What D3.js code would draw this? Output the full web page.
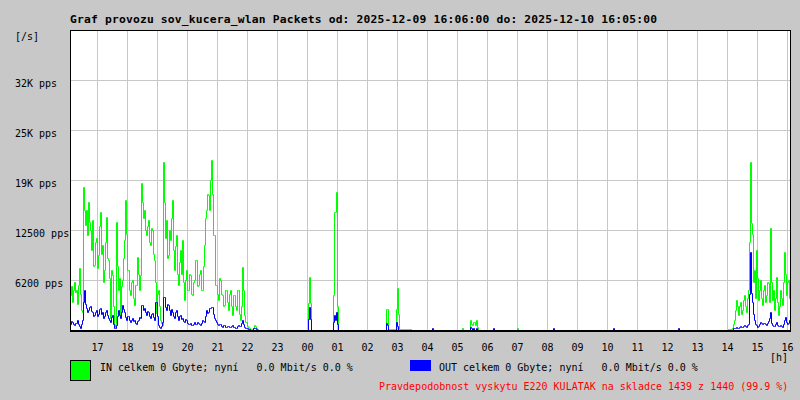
<!DOCTYPE html>
<html><head><meta charset="utf-8">
<script src="https://cdn.jsdelivr.net/npm/d3@7"></script>
<style>
html,body{margin:0;padding:0;background:#c8c8c8;}
svg{display:block;}
text{font-family:"DejaVu Sans Mono",monospace;white-space:pre;}
</style></head><body>
<svg id="c" width="800" height="400"></svg>
<script>
const titleText = "Graf provozu sov_kucera_wlan Packets od: 2025-12-09 16:06:00 do: 2025-12-10 16:05:00";
const startTime = "2025-12-09T16:06:00Z";
const endTime = "2025-12-10T16:06:00Z";
const stepMinutes = 2;
const yMaxK = 37.5; // thousand packets per second
const yTickValues = [6.25, 12.5, 18.75, 25, 31.25];
const yTickLabels = ["6200 pps", "12500 pps", "19K pps", "25K pps", "32K pps"];
const yUnitLabel = "[/s]";
const xUnitLabel = "[h]";
const legendIn = "IN celkem 0 Gbyte; nyní   0.0 Mbit/s 0.0 %";
const legendOut = "OUT celkem 0 Gbyte; nyní   0.0 Mbit/s 0.0 %";
const footerText = "Pravdepodobnost vyskytu E220 KULATAK na skladce 1439 z 1440 (99.9 %)";

// IN packets, thousand pps, one sample every 2 minutes from 16:06 (two lines per hour)
const inValues = [
4.4,5.5,3.5,5.0,6.0,4.8,5.0,3.3,5.6,7.8,4.5,2.5,2.3,17.9,15.0,
13.1,15.0,11.9,16.0,13.5,12.5,10.0,13.8,8.0,8.1,11.0,11.5,7.8,9.4,13.0,
14.8,9.5,10.6,6.0,7.5,11.0,14.1,9.0,8.8,6.5,1.5,7.5,6.9,3.0,0.4,
0.8,13.5,8.0,5.0,6.5,1.9,5.5,6.3,9.0,11.3,16.3,12.0,7.5,7.5,5.0,
4.4,6.0,6.3,4.0,3.1,5.6,5.6,9.1,7.0,5.0,6.9,18.4,16.0,14.0,15.0,
12.5,11.9,13.0,13.8,11.0,10.6,12.8,12.5,9.5,8.8,6.0,2.1,4.5,5.0,3.0,
1.3,0.9,0.6,21.0,16.0,11.5,13.8,9.0,9.4,12.5,11.3,14.0,16.3,10.0,7.5,
10.5,11.9,7.0,5.6,8.5,10.0,7.0,11.3,6.0,3.8,6.3,7.5,5.0,5.0,7.0,
6.9,4.5,4.4,6.0,6.3,8.8,8.8,5.5,5.6,7.0,7.5,5.0,5.0,8.0,10.6,
14.0,15.0,17.0,16.9,15.0,18.8,21.3,17.0,11.9,11.9,5.6,5.6,4.5,3.8,6.5,
6.3,4.5,4.4,3.0,3.1,5.0,5.0,3.5,2.5,4.5,5.0,3.0,1.9,4.4,4.4,
3.0,2.5,5.0,5.0,2.0,1.3,3.0,7.9,5.0,1.9,1.0,1.0,0.5,0.4,0.2,
0.1,0.1,0,0.3,0.6,0.5,0.3,0.1,0,0,0,0,0,0,0,
0,0,0,0,0,0,0,0,0,0,0,0,0,0,0,
0,0,0,0,0,0,0,0,0,0,0,0,0,0,0,
0,0,0,0,0,0,0,0,0,0,0,0,0,3.4,6.6,
3.4,0,0,0,0,0,0,0,0,0,0,0,0,0,0,
0,0,0,0,0,0,0,0,4.4,14.8,14.8,17.3,3.0,0,0,
0,0,0,0,0,0,0,0,0,0,0,0,0,0,0,
0,0,0,0,0,0,0,0,0,0,0,0,0,0,0,
0,0,0,0,0,0,0,0,0,0,0,0,0,0,0,
0,2.6,2.6,0.1,0.1,0.1,0.1,0.1,0.1,0.1,0.1,2.6,5.3,2.0,0.1,
0.1,0.1,0.1,0.1,0.1,0.1,0.1,0.1,0.1,0.1,0.1,0,0,0,0,
0,0,0,0,0,0,0,0,0,0,0,0,0,0,0,
0,0,0,0,0,0,0,0,0,0,0,0,0,0,0,
0,0,0,0,0,0,0,0,0,0,0,0,0,0,0,
0,0,0.3,0,0,0,0,0,0,0,1.3,0.8,0.6,1.0,1.0,
0.6,1.3,0.4,0,0,0,0,0,0,0,0,0,0,0,0,
0,0,0,0,0,0,0,0,0,0,0,0,0,0,0,
0,0,0,0,0,0,0,0,0,0,0,0,0.2,0,0,
0,0,0,0,0,0,0,0,0,0,0,0,0,0,0,
0,0,0,0,0,0,0,0,0,0,0,0,0,0,0,
0,0,0,0,0,0,0,0,0,0,0,0,0,0,0,
0,0,0,0,0,0,0,0,0,0,0,0,0,0,0,
0,0,0,0,0,0,0,0,0,0,0,0,0,0,0,
0,0,0,0,0,0,0,0,0,0,0,0,0,0,0,
0,0,0,0,0,0,0,0,0,0,0,0,0,0,0,
0,0,0,0,0,0,0,0,0,0,0,0,0,0,0,
0,0,0,0,0,0,0,0,0,0,0,0,0,0,0,
0,0,0,0,0,0,0,0,0,0,0,0,0,0,0,
0,0,0,0,0,0,0,0,0,0,0,0,0,0,0,
0,0,0,0,0,0,0,0,0,0,0,0,0,0,0,
0,0,0,0,0,0,0,0,0,0,0,0,0,0,0,
0,0,0,0,0,0,0,0,0,0,0,0,0,0.1,0.1,
0.1,0.1,0.2,0.8,1.3,2.5,3.8,3.0,1.9,3.0,3.5,2.0,2.5,3.8,4.4,
3.0,2.3,4.0,5.0,11.0,21.0,13.4,12.0,6.0,7.5,4.0,10.0,6.5,3.8,5.0,
6.3,4.0,3.1,5.0,5.6,3.5,4.4,6.0,5.9,3.5,12.8,6.0,3.8,5.0,2.5,
4.0,6.6,3.5,1.9,3.0,5.0,4.0,3.1,6.0,9.8,7.0,4.4,6.0,6.3,4.0
];
// OUT packets, thousand pps
const outValues = [
0.8,1.1,1.0,0.8,0.6,0.9,0.9,1.2,0.8,0.5,0.3,0.8,1.3,3.5,5.0,
3.2,2.8,2.2,2.5,2.9,3.0,2.4,2.3,1.7,1.9,2.3,2.5,1.8,2.0,2.6,
2.8,2.0,2.3,1.5,1.8,2.2,2.5,1.9,1.5,1.2,1.0,1.6,1.9,0.8,0.3,
0.2,0.6,1.8,2.5,1.9,1.5,2.2,3.1,2.6,2.3,1.6,1.3,1.7,1.8,1.2,
1.0,1.3,1.5,1.1,1.3,0.9,0.8,1.1,1.3,1.6,1.5,3.1,3.1,2.5,2.8,
2.2,1.9,2.4,2.3,1.7,1.5,2.0,2.1,1.6,1.3,3.5,3.5,1.8,0.6,0.4,
0.3,0.5,1.0,4.1,4.1,2.9,2.5,3.3,3.1,2.5,1.9,2.6,2.3,1.8,1.5,
2.2,2.5,1.8,1.3,1.7,1.9,1.4,1.5,1.1,1.0,1.4,1.3,0.9,0.8,0.7,
0.9,0.6,0.6,0.8,1.0,0.8,0.8,1.0,0.9,0.7,0.6,0.9,1.3,1.1,1.0,
1.8,2.5,2.1,2.3,2.7,2.8,2.9,2.9,2.0,1.5,1.2,1.0,0.7,0.6,0.8,
0.8,0.5,0.4,0.6,0.6,0.4,0.4,0.5,0.5,0.4,0.4,0.5,0.6,0.4,0.4,
0.3,0.3,0.5,0.6,0.5,0.5,0.9,1.3,0.8,0.4,0.3,0.3,0.2,0.1,0.1,
0,0,0,0.2,0.3,0.2,0.1,0,0,0,0,0,0,0,0,
0,0,0,0,0,0,0,0,0,0,0,0,0,0,0,
0,0,0,0,0,0,0,0,0,0,0,0,0,0,0,
0,0,0,0,0,0,0,0,0,0,0,0,0,1.4,2.9,
1.4,0,0,0,0,0,0,0,0,0,0,0,0,0,0,
0,0,0,0,0,0,0,0,1.0,1.9,1.2,2.3,0.8,0,0,
0,0,0,0,0,0,0,0,0,0,0,0,0,0,0,
0,0,0,0,0,0,0,0,0,0,0,0,0,0,0,
0,0,0,0,0,0,0,0,0,0,0,0,0,0,0,
0,0.9,0.6,0,0,0,0,0,0,0,0,1.0,0.5,0,0,
0,0,0,0,0,0,0,0,0,0,0,0,0,0,0,
0,0,0,0,0,0,0,0,0,0,0,0,0,0,0,
0,0,0.3,0,0,0,0,0,0,0,0,0,0,0,0,
0,0,0,0,0,0,0,0,0,0,0,0,0,0,0,
0,0,0,0,0,0,0,0,0,0,0.4,0.2,0,0.2,0,
0,0.3,0,0,0,0,0,0,0,0,0,0,0,0,0,
0,0,0,0.3,0,0,0,0,0,0,0,0,0,0,0,
0,0,0,0,0,0,0,0,0,0,0,0,0,0,0,
0,0,0,0,0,0,0,0,0,0,0,0,0,0,0,
0,0,0,0,0,0,0,0,0,0,0,0,0,0,0,
0,0,0,0.2,0,0,0,0,0,0,0,0,0,0,0,
0,0,0,0,0,0,0,0,0,0,0,0,0,0,0,
0,0,0,0,0,0,0,0,0,0,0,0,0,0,0,
0,0,0,0,0,0,0,0,0,0,0,0,0,0,0,
0,0,0,0.2,0,0,0,0,0,0,0,0,0,0,0,
0,0,0,0,0,0,0,0,0,0,0,0,0,0,0,
0,0,0,0,0,0,0,0,0,0,0,0,0,0,0,
0,0,0,0,0,0,0,0,0,0,0,0,0,0,0,
0,0,0,0,0,0,0,0,0.2,0,0,0,0,0,0,
0,0,0,0,0,0,0,0,0,0,0,0,0,0,0,
0,0,0,0,0,0,0,0,0,0,0,0,0,0,0,
0,0,0,0,0,0,0,0,0,0,0,0,0,0,0,
0,0,0,0.2,0.3,0.3,0.4,0.3,0.3,0.4,0.5,0.4,0.4,0.5,0.6,
0.5,0.4,0.6,0.8,4.5,9.8,4.6,3.5,2.0,1.3,0.8,0.6,0.4,0.5,0.8,
1.0,0.9,0.8,0.9,0.9,0.7,0.6,0.9,1.1,1.5,2.3,0.9,0.6,0.5,0.5,
0.7,1.0,0.6,0.5,0.5,0.6,0.5,0.4,0.7,1.3,1.6,1.0,0.8,0.9,1.2
];

const svg = d3.select("#c");
const L = 70, R = 790, T = 30, B = 330;
const t0 = new Date(startTime), t1 = new Date(endTime);
const x = d3.scaleUtc().domain([t0, t1]).range([L, R]);
const y = d3.scaleLinear().domain([0, yMaxK]).range([B, T]);

svg.append("rect").attr("width", 800).attr("height", 400).attr("fill", "#c8c8c8");
svg.append("rect").attr("x", L).attr("y", T).attr("width", R - L).attr("height", B - T).attr("fill", "#ffffff");

const hours = d3.utcHour.range(t0, t1);
const grid = svg.append("g").attr("stroke", "#c8c8c8").attr("stroke-width", 1).attr("shape-rendering", "crispEdges");
grid.selectAll("line.v").data(hours).join("line").attr("class", "v")
  .attr("x1", d => Math.round(x(d)) + 0.5).attr("x2", d => Math.round(x(d)) + 0.5)
  .attr("y1", T).attr("y2", B);
grid.selectAll("line.h").data(yTickValues).join("line").attr("class", "h")
  .attr("x1", L).attr("x2", R + 2)
  .attr("y1", d => Math.round(y(d)) + 0.5).attr("y2", d => Math.round(y(d)) + 0.5);

function series(vals) {
  const pts = vals.map((v, i) => ({ t: d3.utcMinute.offset(t0, i * stepMinutes), v }));
  pts.push({ t: t1, v: vals[vals.length - 1] });
  return pts;
}
const line = d3.line()
  .x(d => Math.round(x(d.t)) + 0.5)
  .y(d => Math.round(y(d.v)) + 0.5)
  .curve(d3.curveStepAfter);

svg.append("path").datum(series(inValues)).attr("d", line)
  .attr("fill", "none").attr("stroke", "#00ff00").attr("stroke-width", 1)
  .attr("stroke-linecap", "square").attr("stroke-linejoin", "miter");
svg.append("path").datum(series(outValues)).attr("d", line)
  .attr("fill", "none").attr("stroke", "#0000ff").attr("stroke-width", 1)
  .attr("stroke-linecap", "square").attr("stroke-linejoin", "miter");

// frame
const fr = svg.append("g").attr("stroke", "#000").attr("shape-rendering", "crispEdges");
fr.append("line").attr("x1", L).attr("x2", R + 1).attr("y1", T + 0.5).attr("y2", T + 0.5);
fr.append("line").attr("x1", L + 0.5).attr("x2", L + 0.5).attr("y1", T).attr("y2", B + 2);
fr.append("line").attr("x1", R + 0.5).attr("x2", R + 0.5).attr("y1", T).attr("y2", B + 2);
svg.append("rect").attr("x", L).attr("y", B).attr("width", R - L + 1).attr("height", 2).attr("fill", "#000");

// texts
svg.append("text").attr("x", L).attr("y", 22.5).attr("font-size", 11.3).attr("font-weight", "bold")
  .attr("textLength", 587).attr("lengthAdjust", "spacing").attr("fill", "#000").text(titleText);
svg.append("text").attr("x", 15).attr("y", 40).attr("font-size", 10).attr("fill", "#000").text(yUnitLabel);
svg.selectAll("text.yl").data(yTickValues).join("text").attr("class", "yl")
  .attr("x", 15).attr("y", d => Math.round(y(d)) + 6.5).attr("font-size", 10).attr("fill", "#000")
  .text((d, i) => yTickLabels[i]);
svg.selectAll("text.xl").data(hours).join("text").attr("class", "xl")
  .attr("x", d => Math.round(x(d)) + 0.5).attr("y", 351).attr("text-anchor", "middle")
  .attr("font-size", 10).attr("fill", "#000").text(d => d3.utcFormat("%H")(d));
svg.append("text").attr("x", 788).attr("y", 361).attr("text-anchor", "end").attr("font-size", 10).attr("fill", "#000").text(xUnitLabel);

// legend
svg.append("rect").attr("x", 70.5).attr("y", 360.5).attr("width", 20).attr("height", 20)
  .attr("fill", "#00ff00").attr("stroke", "#000").attr("shape-rendering", "crispEdges");
svg.append("text").attr("x", 100).attr("y", 371).attr("font-size", 10).attr("fill", "#000").text(legendIn);
svg.append("rect").attr("x", 410).attr("y", 360).attr("width", 21).attr("height", 11).attr("fill", "#0000ff");
svg.append("text").attr("x", 439).attr("y", 371).attr("font-size", 10).attr("fill", "#000").text(legendOut);
svg.append("text").attr("x", 379).attr("y", 390).attr("font-size", 10).attr("fill", "#ff0000").text(footerText);
</script>
</body></html>
